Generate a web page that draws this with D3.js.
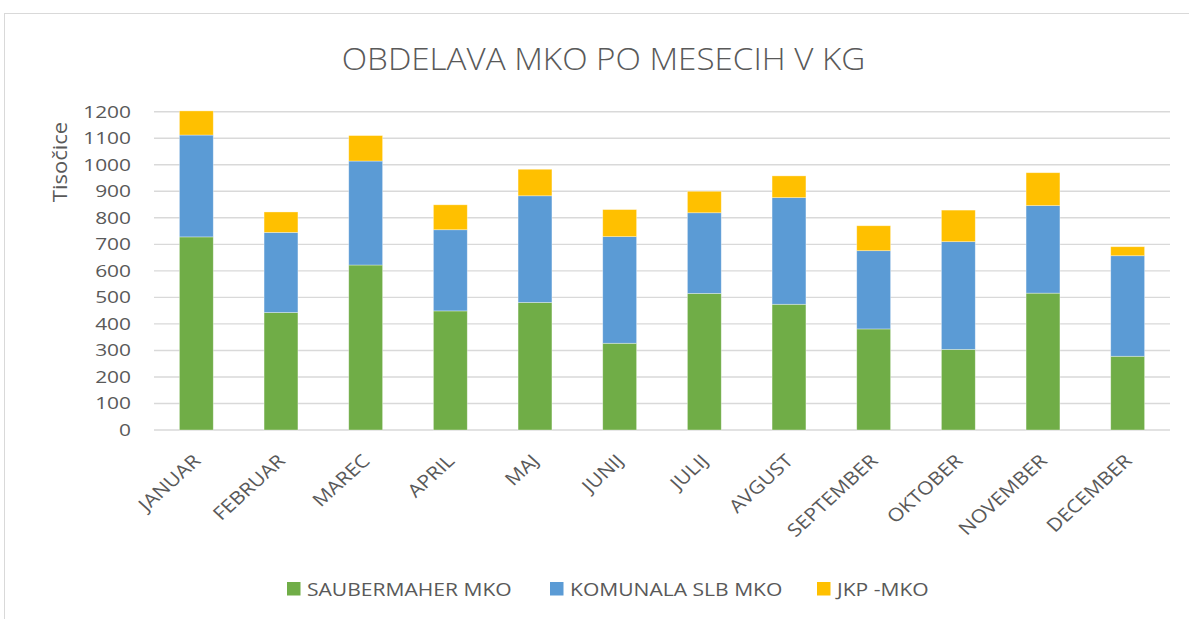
<!DOCTYPE html>
<html>
<head>
<meta charset="utf-8">
<script src="https://cdn.jsdelivr.net/npm/d3@7"></script>
<style>
  html, body { margin: 0; padding: 0; background: #fff; }
  svg { display: block; }
</style>
</head>
<body>
<svg id="chart" width="1189" height="619"></svg>
<script>
// Monthly processing of mixed municipal waste (thousands of kg)
const months = ["JANUAR", "FEBRUAR", "MAREC", "APRIL", "MAJ", "JUNIJ", "JULIJ", "AVGUST", "SEPTEMBER", "OKTOBER", "NOVEMBER", "DECEMBER"];
const saubermaher = [728, 443, 622, 449, 481, 327, 515, 474, 381, 304, 516, 278];
const komunala    = [384, 302, 392, 306, 402, 402, 304, 402, 295, 406, 330, 379];
const jkp         = [91, 77, 96, 94, 100, 102, 81, 82, 94, 119, 124, 34];
const seriesNames = ["SAUBERMAHER MKO", "KOMUNALA SLB MKO", "JKP -MKO"];
const seriesColors = ["#70AD47", "#5B9BD5", "#FFC000"];
const yTicks = [0, 100, 200, 300, 400, 500, 600, 700, 800, 900, 1000, 1100, 1200];

const svg = d3.select("#chart");
const W = 1189, H = 619;
const font = "'Open Sans', Lato, sans-serif";
const textColor = "#595959";

// widen text along its baseline by factor k
function stretch(sel, k) {
  sel.each(function () {
    const len = this.getComputedTextLength();
    this.setAttribute("textLength", len * k);
    this.setAttribute("lengthAdjust", "spacingAndGlyphs");
  });
}

// chart frame
svg.append("rect")
  .attr("x", 4.5).attr("y", 13.5)
  .attr("width", W + 10).attr("height", H + 10)
  .attr("fill", "#fff").attr("stroke", "#d9d9d9").attr("stroke-width", 1);

const plot = { left: 154, right: 1170, top: 111.7, bottom: 430 };

const x = d3.scaleBand()
  .domain(months)
  .range([plot.left, plot.right])
  .paddingInner(0.6)
  .paddingOuter(0.3);

const y = d3.scaleLinear()
  .domain([0, 1200])
  .range([plot.bottom, plot.top]);

// gridlines
svg.append("g")
  .selectAll("line")
  .data(yTicks)
  .join("line")
  .attr("x1", plot.left).attr("x2", plot.right)
  .attr("y1", d => y(d)).attr("y2", d => y(d))
  .attr("stroke", "#d9d9d9").attr("stroke-width", 1.4);

// stacked bars
const rows = months.map((m, i) => ({ month: m, s0: saubermaher[i], s1: komunala[i], s2: jkp[i] }));
const stack = d3.stack().keys(["s0", "s1", "s2"]);
const layers = stack(rows);

svg.append("g")
  .selectAll("g")
  .data(layers)
  .join("g")
  .attr("fill", (d, i) => seriesColors[i])
  .selectAll("rect")
  .data(d => d)
  .join("rect")
  .attr("x", d => x(d.data.month))
  .attr("width", x.bandwidth())
  .attr("y", d => y(d[1]))
  .attr("height", d => y(d[0]) - y(d[1]))
  .attr("stroke", "rgba(255,255,255,0.45)")
  .attr("stroke-width", 0.75);

// y axis labels
const yAxis = d3.axisLeft(y).tickValues(yTicks).tickFormat(d3.format("d")).tickSize(0).tickPadding(23);
const gy = svg.append("g")
  .attr("transform", `translate(${plot.left},0)`)
  .call(yAxis);
gy.select(".domain").remove();
gy.selectAll("text")
  .attr("fill", textColor)
  .style("font-family", font)
  .style("font-size", "17px")
  .call(stretch, 1.23);

// x axis labels, rotated
const xAxis = d3.axisBottom(x).tickSize(0).tickPadding(0);
const gx = svg.append("g")
  .attr("transform", `translate(0,${plot.bottom})`)
  .call(xAxis);
gx.select(".domain").remove();
gx.selectAll("text")
  .attr("fill", textColor)
  .style("font-family", font)
  .style("font-size", "18px")
  .attr("text-anchor", "end")
  .attr("y", 0)
  .attr("dy", 0)
  .attr("transform", "translate(5.4,32) scale(1.1,1) rotate(-45)")
  .call(stretch, 1.08);

// y axis title
svg.append("text")
  .attr("transform", "translate(67,162) rotate(-90)")
  .attr("text-anchor", "middle")
  .attr("fill", textColor)
  .style("font-family", font)
  .style("font-size", "20px")
  .text("Tisočice")
  .call(stretch, 1.1);

// chart title
svg.append("text")
  .attr("x", 603.5).attr("y", 70)
  .attr("text-anchor", "middle")
  .attr("fill", textColor)
  .style("font-family", font)
  .style("font-size", "31px")
  .style("font-weight", 300)
  .text("OBDELAVA MKO PO MESECIH V KG")
  .call(stretch, 1.07);

// legend
const legendX = [287, 550, 817];
const legend = svg.append("g");
seriesNames.forEach((name, i) => {
  legend.append("rect")
    .attr("x", legendX[i]).attr("y", 582)
    .attr("width", 13.5).attr("height", 13.5)
    .attr("fill", seriesColors[i]);
  legend.append("text")
    .attr("x", legendX[i] + 20).attr("y", 596)
    .attr("fill", textColor)
    .style("font-family", font)
    .style("font-size", "18px")
    .text(name)
    .call(stretch, 1.17);
});
</script>
</body>
</html>
